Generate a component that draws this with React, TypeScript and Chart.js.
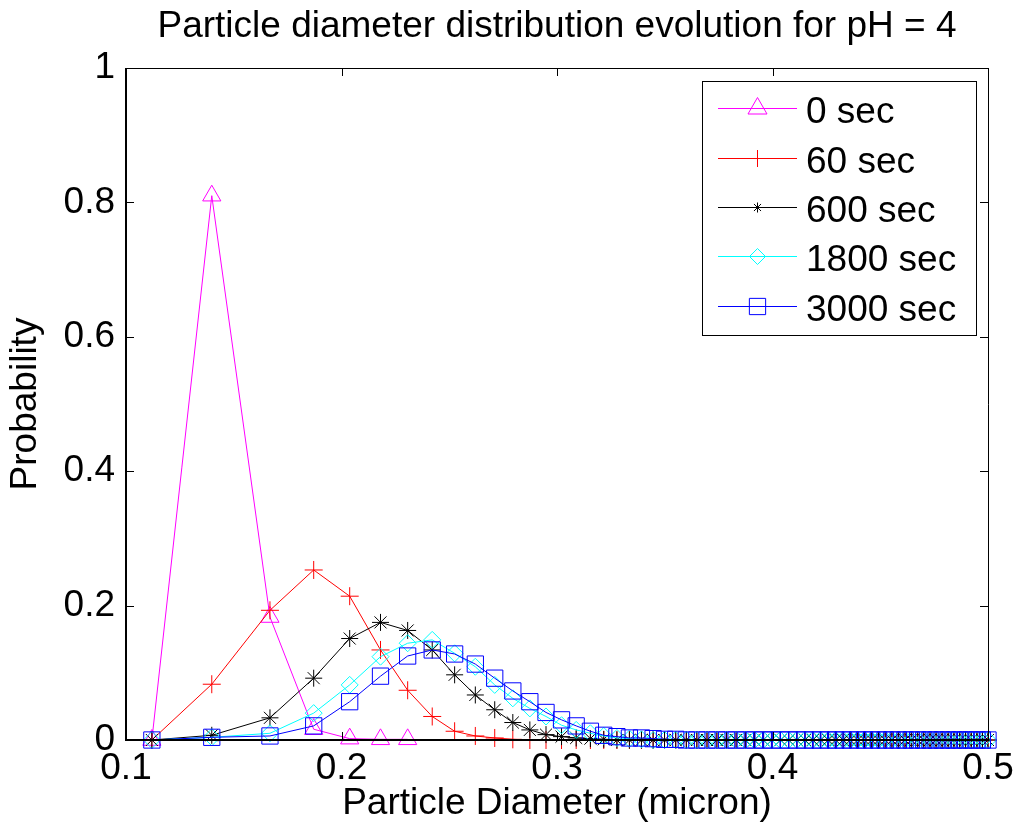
import React, { useEffect, useRef } from "react";
import { Chart, registerables } from "chart.js";

Chart.register(...registerables);

// Particle diameters (micron)
const diameters = [
  0.1120, 0.1398, 0.1668, 0.1871, 0.2038, 0.2181, 0.2307, 0.2421, 0.2525, 0.2621,
  0.2711, 0.2795, 0.2874, 0.2949, 0.3021, 0.3089, 0.3155, 0.3217, 0.3278, 0.3336,
  0.3392, 0.3446, 0.3499, 0.3551, 0.3600, 0.3649, 0.3696, 0.3742, 0.3787, 0.3831,
  0.3874, 0.3916, 0.3957, 0.3997, 0.4037, 0.4075, 0.4113, 0.4151, 0.4187, 0.4223,
  0.4259, 0.4293, 0.4328, 0.4361, 0.4395, 0.4427, 0.4460, 0.4492, 0.4523, 0.4554,
  0.4584, 0.4615, 0.4644, 0.4674, 0.4702, 0.4731, 0.4759, 0.4787, 0.4815, 0.4842,
  0.4869, 0.4896, 0.4922, 0.4949, 0.4974, 0.5000,
];

const prob0sec = [0, 0.81, 0.183, 0.016, 0.002, 0.001, 0.001];

const prob60sec = [
  0, 0.083, 0.193, 0.253, 0.214, 0.134, 0.074, 0.035, 0.013, 0.006,
  0.003, 0.001, 0, 0, 0, 0, 0, 0, 0, 0,
  0, 0, 0, 0, 0, 0, 0, 0, 0, 0,
  0, 0, 0, 0, 0, 0, 0, 0, 0, 0,
  0, 0, 0, 0, 0, 0, 0, 0, 0, 0,
  0, 0, 0, 0, 0, 0, 0, 0, 0, 0,
  0, 0, 0, 0, 0, 0,
];

const prob600sec = [
  0, 0.007, 0.033, 0.092, 0.151, 0.175, 0.163, 0.134, 0.097, 0.067,
  0.045, 0.026, 0.015, 0.008, 0.005, 0.003, 0.002, 0.001, 0, 0,
  0, 0, 0, 0, 0, 0, 0, 0, 0, 0,
  0, 0, 0, 0, 0, 0, 0, 0, 0, 0,
  0, 0, 0, 0, 0, 0, 0, 0, 0, 0,
  0, 0, 0, 0, 0, 0, 0, 0, 0, 0,
  0, 0, 0, 0, 0, 0,
];

const prob1800sec = [
  0, 0.004, 0.010, 0.040, 0.082, 0.124, 0.144, 0.149, 0.129, 0.109,
  0.082, 0.062, 0.047, 0.035, 0.022, 0.015, 0.010, 0.006, 0.003, 0.002,
  0.001, 0, 0, 0, 0, 0, 0, 0, 0, 0,
  0, 0, 0, 0, 0, 0, 0, 0, 0, 0,
  0, 0, 0, 0, 0, 0, 0, 0, 0, 0,
  0, 0, 0, 0, 0, 0, 0, 0, 0, 0,
  0, 0, 0, 0, 0, 0,
];

const prob3000sec = [
  0, 0.004, 0.006, 0.021, 0.057, 0.095, 0.125, 0.134, 0.128, 0.113,
  0.092, 0.073, 0.057, 0.041, 0.030, 0.021, 0.013, 0.007, 0.005, 0.003,
  0.003, 0.002, 0.001, 0.001, 0, 0, 0, 0, 0, 0,
  0, 0, 0, 0, 0, 0, 0, 0, 0, 0,
  0, 0, 0, 0, 0, 0, 0, 0, 0, 0,
  0, 0, 0, 0, 0, 0, 0, 0, 0, 0,
  0, 0, 0, 0, 0, 0,
];

const seriesLabels = ["0 sec", "60 sec", "600 sec", "1800 sec", "3000 sec"];
const seriesValues = [prob0sec, prob60sec, prob600sec, prob1800sec, prob3000sec];
const seriesColors = ["#ff00ff", "#ff0000", "#000000", "#00ffff", "#0000ff"];
const seriesMarkers = ["triangle", "cross", "star", "rectRot", "rect"];
const seriesMarkerRadius = [10.5, 9, 8.5, 8.5, 11.5];
const legendMarkerRadius = [11, 8.5, 5, 8, 11.5];

const xTicks = [0.1, 0.2, 0.3, 0.4, 0.5];
const yTicks = [0, 0.2, 0.4, 0.6, 0.8, 1];

const titleText = "Particle diameter distribution evolution for pH = 4";
const xTitle = "Particle Diameter (micron)";
const yTitle = "Probability";

const FONT = '"Liberation Sans", Arial, Helvetica, sans-serif';
const FS = 37;

function drawMarker(ctx: CanvasRenderingContext2D, style: string, x: number, y: number, r: number) {
  ctx.beginPath();
  if (style === "triangle") {
    ctx.moveTo(x, y - r);
    ctx.lineTo(x + 0.866 * r, y + 0.5 * r);
    ctx.lineTo(x - 0.866 * r, y + 0.5 * r);
    ctx.closePath();
  } else if (style === "cross") {
    ctx.moveTo(x - r, y);
    ctx.lineTo(x + r, y);
    ctx.moveTo(x, y - r);
    ctx.lineTo(x, y + r);
  } else if (style === "star") {
    const d = r * 0.7071;
    ctx.moveTo(x - r, y);
    ctx.lineTo(x + r, y);
    ctx.moveTo(x, y - r);
    ctx.lineTo(x, y + r);
    ctx.moveTo(x - d, y - d);
    ctx.lineTo(x + d, y + d);
    ctx.moveTo(x - d, y + d);
    ctx.lineTo(x + d, y - d);
  } else if (style === "rectRot") {
    ctx.moveTo(x - r, y);
    ctx.lineTo(x, y - r);
    ctx.lineTo(x + r, y);
    ctx.lineTo(x, y + r);
    ctx.closePath();
  } else {
    const h = r * 0.7071;
    ctx.rect(x - h, y - h, 2 * h, 2 * h);
  }
  ctx.stroke();
}

const framePlugin = {
  id: "matlabFrame",
  afterDatasetsDraw(chart: any) {
    const { ctx, chartArea } = chart;
    const { left, right, top, bottom } = chartArea;
    const xs = chart.scales.x;
    const ys = chart.scales.y;
    ctx.save();
    ctx.strokeStyle = "#000";
    ctx.lineWidth = 1;
    const tl = 8;
    ctx.beginPath();
    xTicks.forEach((v) => {
      const px = Math.round(xs.getPixelForValue(v)) + 0.5;
      ctx.moveTo(px, bottom);
      ctx.lineTo(px, bottom - tl);
      ctx.moveTo(px, top);
      ctx.lineTo(px, top + tl);
    });
    yTicks.forEach((v) => {
      const py = Math.round(ys.getPixelForValue(v)) + 0.5;
      ctx.moveTo(left, py);
      ctx.lineTo(left + tl, py);
      ctx.moveTo(right, py);
      ctx.lineTo(right - tl, py);
    });
    ctx.stroke();
    // box
    ctx.beginPath();
    ctx.moveTo(left, top + 0.5);
    ctx.lineTo(right + 0.5, top + 0.5);
    ctx.lineTo(right + 0.5, bottom);
    ctx.stroke();
    ctx.lineWidth = 2;
    ctx.beginPath();
    ctx.moveTo(left, top);
    ctx.lineTo(left, bottom);
    ctx.lineTo(right + 1, bottom);
    ctx.stroke();
    ctx.restore();
  },
};

const legendPlugin = {
  id: "matlabLegend",
  afterDraw(chart: any) {
    const ctx: CanvasRenderingContext2D = chart.ctx;
    const bx = 702.5, by = 81.5, bw = 274, bh = 254;
    ctx.save();
    ctx.fillStyle = "#fff";
    ctx.fillRect(bx, by, bw, bh);
    ctx.strokeStyle = "#000";
    ctx.lineWidth = 1;
    ctx.strokeRect(bx, by, bw, bh);
    seriesLabels.forEach((label, i) => {
      const ly = 108.3 + i * 49.35;
      ctx.strokeStyle = seriesColors[i];
      ctx.lineWidth = 1;
      ctx.beginPath();
      ctx.moveTo(718, Math.round(ly) + 0.5);
      ctx.lineTo(797, Math.round(ly) + 0.5);
      ctx.stroke();
      drawMarker(ctx, seriesMarkers[i], 757.5, Math.round(ly) + 0.5, legendMarkerRadius[i]);
      ctx.fillStyle = "#000";
      ctx.font = `${FS}px ${FONT}`;
      ctx.textAlign = "left";
      ctx.textBaseline = "alphabetic";
      ctx.fillText(label, 806, ly + 15);
    });
    ctx.restore();
  },
};

const fmt = (v: number) => {
  if (Math.abs(v) < 1e-9) return "0";
  if (Math.abs(v - 1) < 1e-9) return "1";
  return v.toFixed(1);
};

export default function App() {
  const canvasRef = useRef<HTMLCanvasElement | null>(null);

  useEffect(() => {
    if (!canvasRef.current) return;
    const datasets = seriesLabels.map((label, i) => ({
      label,
      data: seriesValues[i].map((v, k) => ({ x: diameters[k], y: v })),
      borderColor: seriesColors[i],
      backgroundColor: seriesColors[i],
      borderWidth: 1,
      pointStyle: seriesMarkers[i],
      pointRadius: seriesMarkerRadius[i],
      pointHoverRadius: seriesMarkerRadius[i],
      pointBorderWidth: 1,
      pointBorderColor: seriesColors[i],
      pointBackgroundColor: "rgba(0,0,0,0)",
      tension: 0,
      fill: false,
      clip: false,
      order: 4 - i,
    }));

    const font = { family: FONT, size: FS, weight: "normal" as const, lineHeight: 1.2 };

    const chart = new Chart(canvasRef.current, {
      type: "line",
      data: { datasets },
      options: {
        responsive: false,
        animation: false,
        events: [],
        layout: { padding: { left: 0, right: 33, top: 0, bottom: 0 } },
        plugins: {
          legend: { display: false },
          tooltip: { enabled: false },
          title: {
            display: true,
            text: titleText,
            fullSize: false,
            color: "#000",
            font,
            padding: { top: 5, bottom: 18.6 },
          },
        },
        scales: {
          x: {
            type: "linear",
            min: 0.1,
            max: 0.5,
            afterBuildTicks: (s: any) => {
              s.ticks = xTicks.map((v) => ({ value: v }));
            },
            afterFit: (s: any) => {
              s.height = 97;
            },
            grid: { display: false, drawTicks: false },
            border: { display: false },
            ticks: {
              color: "#000",
              font,
              padding: 6.5,
              maxRotation: 0,
              autoSkip: false,
              callback: (v: any) => fmt(Number(v)),
            },
            title: {
              display: true,
              text: xTitle,
              color: "#000",
              font,
              padding: { top: 0, bottom: 11 },
            },
          },
          y: {
            type: "linear",
            min: 0,
            max: 1,
            afterBuildTicks: (s: any) => {
              s.ticks = yTicks.map((v) => ({ value: v }));
            },
            afterFit: (s: any) => {
              s.width = 126;
            },
            grid: { display: false, drawTicks: false },
            border: { display: false },
            ticks: {
              color: "#000",
              font,
              padding: 11,
              autoSkip: false,
              callback: (v: any) => fmt(Number(v)),
            },
            title: {
              display: true,
              text: yTitle,
              color: "#000",
              font,
              padding: { top: 4, bottom: 0 },
            },
          },
        },
      } as any,
      plugins: [framePlugin, legendPlugin],
    });
    return () => chart.destroy();
  }, []);

  return (
    <div style={{ position: "absolute", left: 0, top: 0, width: 1021, height: 837, background: "#fff" }}>
      <canvas ref={canvasRef} width={1021} height={837} style={{ display: "block" }} />
    </div>
  );
}
